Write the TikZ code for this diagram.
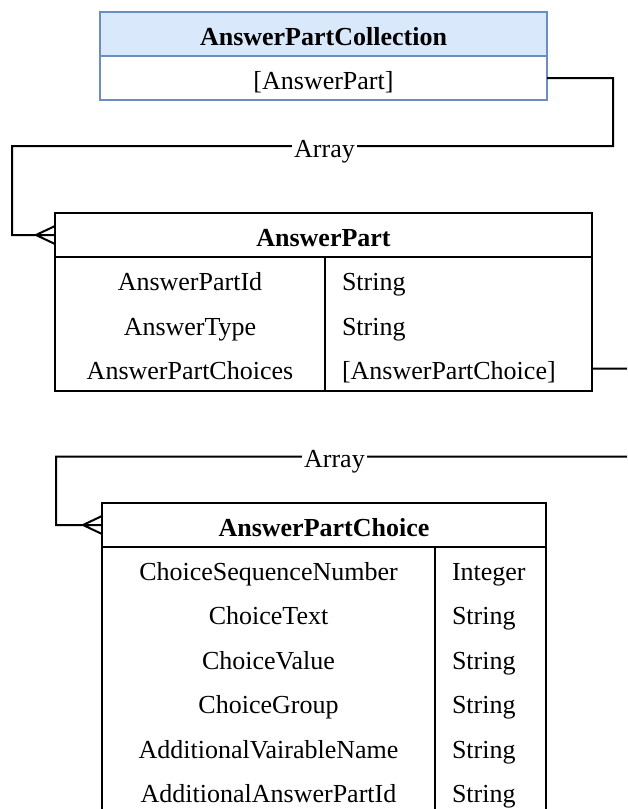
\documentclass[tikz,border=0pt]{standalone}
\usepackage{fontspec}
\setmainfont{Liberation Serif}
\usepackage{tikz}
\usetikzlibrary{calc}
\usetikzlibrary{positioning}

\definecolor{hdrfill}{HTML}{DAE8FC}
\definecolor{hdrline}{HTML}{6C8EBF}

\begin{document}
\begin{tikzpicture}[x=1pt,y=-1pt,
    every node/.style={font=\fontsize{26}{31}\selectfont,inner sep=0pt,outer sep=0pt,text height=28pt,text depth=6pt},
    header/.style={draw,line width=2pt,minimum height=44pt,font=\fontsize{26}{31}\selectfont\bfseries},
    namecell/.style={minimum height=44.67pt},
    typecell/.style={minimum height=44.67pt,anchor=west,align=left,inner xsep=17pt},
    conn/.style={draw,line width=2pt},
    lbl/.style={fill=white,inner xsep=2pt}]

  \useasboundingbox (0,0) rectangle (627,809);
  \clip (0,0) rectangle (627,809);

  \node [header,fill=hdrfill,draw=hdrline,minimum width=447pt] (coll) at (323.5,34) {AnswerPartCollection};
  \node [draw=hdrline,line width=2pt,minimum width=447pt,minimum height=44pt,below=0pt of coll] (collrow) {[AnswerPart]};

  \node [header,minimum width=537pt] (part) at (323.5,235) {AnswerPart};
  \foreach \fname/\ftype [count=\i] in {AnswerPartId/String,AnswerType/String,AnswerPartChoices/{[AnswerPartChoice]}} {
    \node [namecell,minimum width=270pt] (partn\i) at (190,{257+44.67*(\i-0.5)}) {\fname};
    \node [typecell,text width=233pt] (partt\i) at (325,{257+44.67*(\i-0.5)}) {\ftype};
  }
  \draw [line width=2pt] (part.south west) rectangle (partt3.south east);
  \draw [line width=2pt] (partn1.north east) -- (partn3.south east);

  \node [header,minimum width=444pt] (choice) at (324,525) {AnswerPartChoice};
  \foreach \fname/\ftype [count=\i] in {ChoiceSequenceNumber/Integer,ChoiceText/String,ChoiceValue/String,ChoiceGroup/String,AdditionalVairableName/String,AdditionalAnswerPartId/String} {
    \node [namecell,minimum width=333pt] (choicen\i) at (268.5,{547+44.5*(\i-0.5)}) {\fname};
    \node [typecell,text width=77pt] (choicet\i) at (435,{547+44.5*(\i-0.5)}) {\ftype};
  }
  \draw [line width=2pt] (choice.south west) rectangle (choicet6.south east);
  \draw [line width=2pt] (choicen1.north east) -- (choicen6.south east);

  \path [conn]
    (collrow.east) -- ++(66,0) -- ++(0,68) -| ([xshift=-43pt]part.west) node [lbl,pos=0.24] {Array} -- (part.west)
    ([xshift=-19pt]part.west) -- ([yshift=9pt]part.west)
    ([xshift=-19pt]part.west) -- ([yshift=-9pt]part.west);

  \path [conn]
    (partt3.east) -- ++(49,0) -- ++(0,88) -| ([xshift=-46pt]choice.west) node [lbl,pos=0.262] {Array} -- (choice.west)
    ([xshift=-19pt]choice.west) -- ([yshift=9pt]choice.west)
    ([xshift=-19pt]choice.west) -- ([yshift=-9pt]choice.west);

\end{tikzpicture}
\end{document}
